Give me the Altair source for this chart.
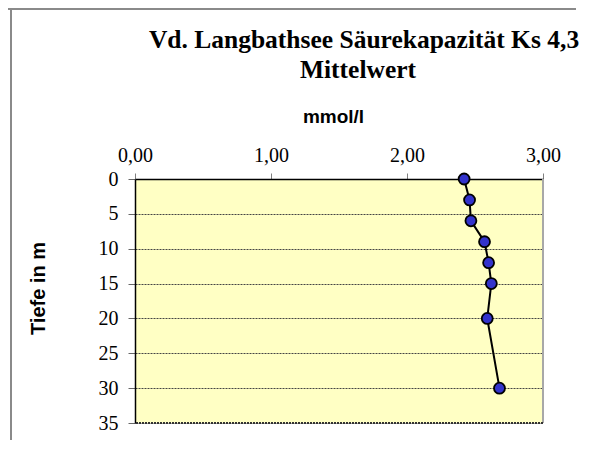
import altair as alt
import pandas as pd

depth = [0, 3, 6, 9, 12, 15, 20, 30]
ks = [2.42, 2.46, 2.47, 2.57, 2.60, 2.62, 2.59, 2.68]
x_ticks = [0, 1, 2, 3]
y_ticks = [0, 5, 10, 15, 20, 25, 30, 35]
title_lines = ["Vd. Langbathsee Säurekapazität Ks 4,3", "Mittelwert"]

df = pd.DataFrame({"Tiefe": depth, "Ks": ks})

SERIF = "Liberation Serif"
SANS = "Liberation Sans"

x_scale = alt.Scale(domain=[0, 3], nice=False, zero=False)
y_scale = alt.Scale(domain=[0, 35], reverse=True, nice=False, zero=False)

x_axis = alt.Axis(
    orient="top", values=x_ticks, title="mmol/l",
    labelExpr="replace(format(datum.value, '.2f'), '.', ',')",
    labelFont=SERIF, labelFontSize=20, labelColor="black",
    labelPadding=8, tickSize=6, tickColor="#808080",
    labelOverlap=False, labelFlush=False,
    domainColor="black", domainWidth=1.5, grid=False,
    titleFont=SANS, titleFontSize=19, titleFontWeight="bold",
    titleColor="black", titleX=198, titleY=-56.5,
    titleBaseline="alphabetic", titleAlign="center",
)
y_axis = alt.Axis(
    values=y_ticks, title="Tiefe in m",
    labelFont=SERIF, labelFontSize=20, labelColor="black",
    labelPadding=10, tickSize=7, tickColor="#666666",
    labelOverlap=False, labelFlush=False,
    domainColor="black", domainWidth=1.5,
    grid=True, gridColor="#444444", gridDash=[2, 1], gridWidth=1,
    titleFont=SANS, titleFontSize=20, titleFontWeight="bold",
    titleColor="black", titleX=-87, titleY=109,
)

x_enc = alt.X("Ks:Q", scale=x_scale, axis=x_axis)
y_enc = alt.Y("Tiefe:Q", scale=y_scale, axis=y_axis)

line = alt.Chart(df).mark_line(color="black", strokeWidth=2).encode(
    x=x_enc, y=y_enc, order="Tiefe:Q"
)
pts = alt.Chart(df).mark_point(
    filled=True, fill="#3333CC", stroke="black", strokeWidth=1.8,
    size=120, opacity=1, shape="circle"
).encode(x=x_enc, y=y_enc)

right_border = alt.Chart(df).mark_rule(color="#A8A8A8", strokeWidth=2).encode(
    x=alt.XDatum(3, type="quantitative", scale=x_scale, axis=x_axis)
)
bottom_border = alt.Chart(df).mark_rule(
    color="#333333", strokeWidth=1, strokeDash=[2, 1]
).encode(
    y=alt.YDatum(35, type="quantitative", scale=y_scale, axis=y_axis)
)

title1 = alt.Chart(pd.DataFrame({"t": [title_lines[0]]})).mark_text(
    font=SERIF, fontSize=25.5, fontWeight="bold", color="black",
    align="center", baseline="alphabetic"
).encode(text="t:N", x=alt.value(229), y=alt.value(-131))
title2 = alt.Chart(pd.DataFrame({"t": [title_lines[1]]})).mark_text(
    font=SERIF, fontSize=25.5, fontWeight="bold", color="black",
    align="center", baseline="alphabetic"
).encode(text="t:N", x=alt.value(223), y=alt.value(-101))

frame_top = alt.Chart(df).mark_rule(color="#8a8a8a", strokeWidth=1.5).encode(
    x=alt.value(-127), x2=alt.value(441), y=alt.value(-170.3)
)
frame_left = alt.Chart(df).mark_rule(color="#8a8a8a", strokeWidth=1.5).encode(
    x=alt.value(-124.2), y=alt.value(-170.3), y2=alt.value(270)
)

chart = alt.layer(
    line, pts, right_border, bottom_border, title1, title2, frame_top, frame_left
).properties(
    width=408,
    height=244,
    autosize=alt.AutoSizeParams(type="none"),
    padding={"left": 127, "top": 171, "right": 41, "bottom": 17},
    background="white",
).configure_view(
    fill="#FFFFC4", stroke=None
)

chart.save("out.html", embed_options={"renderer": "svg", "actions": False})
